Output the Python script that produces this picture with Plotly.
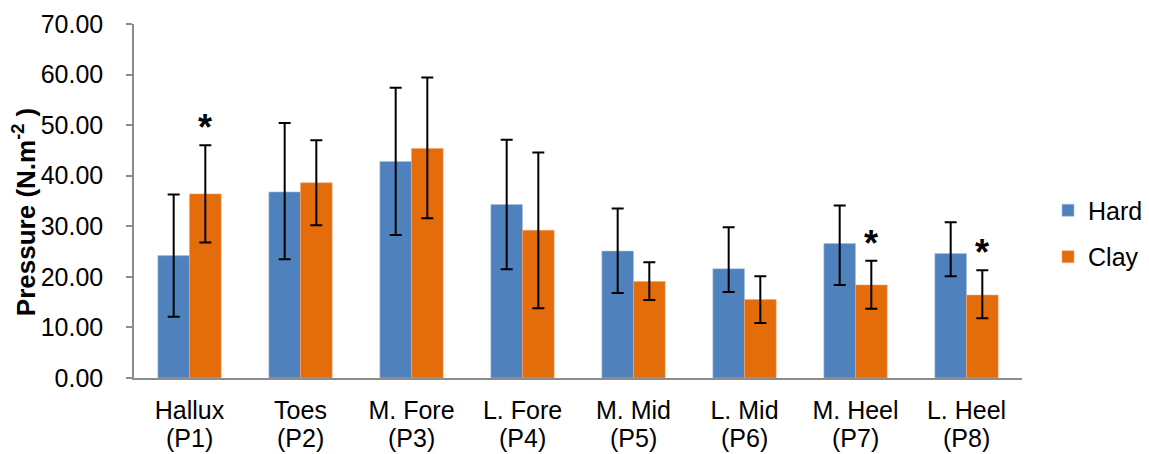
import plotly.graph_objects as go

categories = ["Hallux", "Toes", "M. Fore", "L. Fore", "M. Mid", "L. Mid", "M. Heel", "L. Heel"]
region_codes = ["(P1)", "(P2)", "(P3)", "(P4)", "(P5)", "(P6)", "(P7)", "(P8)"]
hard = [24.2, 36.8, 42.8, 34.3, 25.1, 21.6, 26.6, 24.6]
hard_err_plus = [12.1, 13.6, 14.6, 12.8, 8.4, 8.2, 7.5, 6.2]
hard_err_minus = [12.1, 13.3, 14.5, 12.8, 8.3, 4.6, 8.2, 4.5]
clay = [36.4, 38.6, 45.4, 29.2, 19.1, 15.5, 18.4, 16.4]
clay_err_plus = [9.6, 8.4, 14.0, 15.4, 3.8, 4.6, 4.8, 4.9]
clay_err_minus = [9.6, 8.4, 13.8, 15.4, 3.7, 4.6, 4.7, 4.6]
significant = [True, False, False, False, False, False, True, True]
yticks = [0, 10, 20, 30, 40, 50, 60, 70]
y_title = "<b>Pressure (N.m<sup>-2</sup> )</b>"

FONT = "Liberation Sans, Arial, sans-serif"
BLUE = "#4F81BD"
ORANGE = "#E46C0A"
AXIS = "#8C8C8C"

fig = go.Figure()
fig.add_trace(go.Bar(
    name="Hard", x=categories, y=hard, marker_color=BLUE,
    marker_line=dict(color="#A9C1E0", width=0.6), legendgroup="a",
    error_y=dict(type="data", symmetric=False, array=hard_err_plus,
                 arrayminus=hard_err_minus, color="black", thickness=2, width=6),
))
fig.add_trace(go.Bar(
    name="Clay", x=categories, y=clay, marker_color=ORANGE,
    marker_line=dict(color="#F2A56E", width=0.6), legendgroup="b",
    error_y=dict(type="data", symmetric=False, array=clay_err_plus,
                 arrayminus=clay_err_minus, color="black", thickness=2, width=6),
))

for i, sig in enumerate(significant):
    if sig:
        fig.add_annotation(
            x=categories[i], y=clay[i] + clay_err_plus[i], xref="x", yref="y",
            text="<b>*</b>", showarrow=False, xshift=15.75, yshift=-5,
            yanchor="bottom", font=dict(family=FONT, size=36, color="black"),
        )

# second line of each category label
for cat, code in zip(categories, region_codes):
    fig.add_annotation(
        x=cat, y=0, xref="x", yref="paper", text=code, showarrow=False,
        xanchor="center", yanchor="middle", yshift=-59.5,
        font=dict(family=FONT, size=25, color="black"),
    )

fig.add_annotation(
    x=-0.1239, y=0.4685, xref="paper", yref="paper", text=y_title,
    textangle=-90, showarrow=False, xanchor="center", yanchor="middle",
    font=dict(family=FONT, size=26, color="black"),
)

fig.update_layout(
    template="none",
    width=1141, height=446,
    margin=dict(l=126, r=127, t=16, b=76),
    paper_bgcolor="white", plot_bgcolor="white",
    barmode="group", bargap=0.43, bargroupgap=0,
    font=dict(family=FONT, size=25, color="black"),
    showlegend=True,
    legend=dict(xref="container", yref="container", x=0.9115, xanchor="left",
                y=0.4944, yanchor="middle",
                font=dict(family=FONT, size=25, color="black"),
                tracegroupgap=11, traceorder="grouped",
                itemwidth=30, bgcolor="rgba(0,0,0,0)", borderwidth=0),
)
fig.update_xaxes(
    automargin=False,
    showline=True, linecolor=AXIS, linewidth=1.5, ticks="", showgrid=False,
    zeroline=False,
    tickfont=dict(family=FONT, size=25, color="black"), ticklabelstandoff=9,
)
fig.update_yaxes(
    automargin=False,
    range=[0, 70], tickvals=yticks, tickformat=".2f",
    showline=True, linecolor=AXIS, linewidth=1.5, ticks="outside",
    ticklen=6, tickcolor=AXIS, tickwidth=1.5, showgrid=False, zeroline=False,
    tickfont=dict(family=FONT, size=25, color="black"), ticklabelstandoff=18,
)

fig.write_html("out.html")
